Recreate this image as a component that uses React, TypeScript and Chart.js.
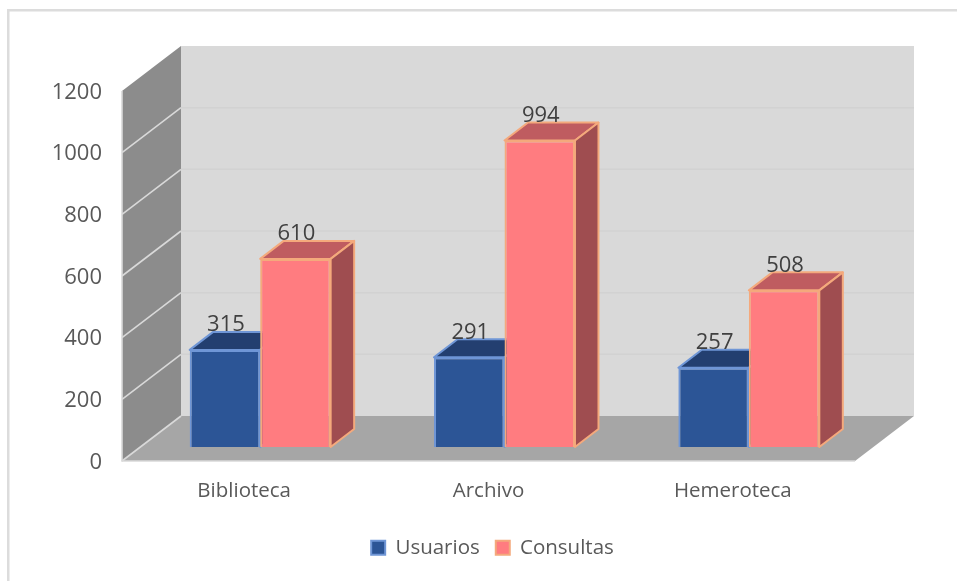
import React, { useEffect, useRef } from "react";
import { Chart, registerables } from "chart.js";

Chart.register(...registerables);

const categories = ["Biblioteca", "Archivo", "Hemeroteca"];
const usuarios = [315, 291, 257];
const consultas = [610, 994, 508];
const yMax = 1200;
const yStep = 200;

const FONT = "'Open Sans', sans-serif";
const TEXT = "#595959";
const WALL_DX = 59;
const WALL_DY = -45;
const BAR_SHIFT_X = 16;
const BAR_SHIFT_Y = -14;
const BAR_DX = 23.5;
const BAR_DY = -18;
const LEGEND_SHIFT_X = 4;

const palette = [
  { front: "#2c5596", border: "#6f96d6", top: "#233f70", side: "#1f3864" },
  { front: "#ff7c80", border: "#f4a97c", top: "#bf5c60", side: "#9f4d50" },
];

function poly(ctx: CanvasRenderingContext2D, pts: number[][], fill: string, stroke?: string, lw = 2) {
  ctx.beginPath();
  pts.forEach((p, i) => (i ? ctx.lineTo(p[0], p[1]) : ctx.moveTo(p[0], p[1])));
  ctx.closePath();
  ctx.fillStyle = fill;
  ctx.fill();
  if (stroke) {
    ctx.strokeStyle = stroke;
    ctx.lineWidth = lw;
    ctx.lineJoin = "round";
    ctx.stroke();
  }
}

const scene3d = {
  id: "scene3d",
  afterLayout(chart: any) {
    const lg = chart.legend;
    if (lg) {
      lg.left += LEGEND_SHIFT_X;
      lg.right += LEGEND_SHIFT_X;
    }
  },
  beforeDatasetsDraw(chart: any) {
    const { ctx, chartArea: a, scales } = chart;
    const y = scales.y;
    ctx.save();
    // frame of the picture
    ctx.fillStyle = "#dcdcdc";
    ctx.fillRect(7, 9, 950, 2.5);
    ctx.fillRect(7, 9, 2.5, 572);
    // back wall, side wall, floor
    const L = a.left, R = a.right, T = a.top, B = a.bottom;
    poly(ctx, [[L + WALL_DX, T + WALL_DY], [R + WALL_DX, T + WALL_DY], [R + WALL_DX, B + WALL_DY], [L + WALL_DX, B + WALL_DY]], "#d9d9d9");
    poly(ctx, [[L, T], [L + WALL_DX, T + WALL_DY], [L + WALL_DX, B + WALL_DY], [L, B]], "#8c8c8c");
    poly(ctx, [[L, B], [L + WALL_DX, B + WALL_DY], [R + WALL_DX, B + WALL_DY], [R, B]], "#a6a6a6");
    // grid lines from the value scale
    y.ticks.forEach((t: any) => {
      const py = y.getPixelForValue(t.value);
      if (t.value > 0 && t.value < yMax) {
        ctx.strokeStyle = "#d2d2d2";
        ctx.lineWidth = 1.5;
        ctx.beginPath();
        ctx.moveTo(L + WALL_DX, py + WALL_DY);
        ctx.lineTo(R + WALL_DX, py + WALL_DY);
        ctx.stroke();
      }
      if (t.value < yMax) {
        ctx.strokeStyle = "#d9d9d9";
        ctx.lineWidth = 1.6;
        ctx.beginPath();
        ctx.moveTo(L, py);
        ctx.lineTo(L + WALL_DX, py + WALL_DY);
        ctx.stroke();
      }
    });
    // axis edges
    ctx.strokeStyle = "#d9d9d9";
    ctx.lineWidth = 1.6;
    ctx.beginPath();
    ctx.moveTo(L, T);
    ctx.lineTo(L, B);
    ctx.lineTo(R, B);
    ctx.stroke();
    // bar depth faces, behind every front face
    [0, 1].forEach((d) => {
      const c = palette[d];
      chart.getDatasetMeta(d).data.forEach((el: any) => {
        const w = el.width / 2;
        const x0 = el.x - w + BAR_SHIFT_X;
        const x1 = el.x + w + BAR_SHIFT_X;
        const top = el.y + BAR_SHIFT_Y;
        const base = el.base + BAR_SHIFT_Y;
        poly(ctx, [[x0, top], [x1, top], [x1 + BAR_DX, top + BAR_DY], [x0 + BAR_DX, top + BAR_DY]], c.top, c.border);
        poly(ctx, [[x1, top], [x1 + BAR_DX, top + BAR_DY], [x1 + BAR_DX, base + BAR_DY], [x1, base]], c.side, c.border);
      });
    });
    ctx.restore();
  },
  beforeDatasetDraw(chart: any) {
    chart.ctx.save();
    chart.ctx.translate(BAR_SHIFT_X, BAR_SHIFT_Y);
  },
  afterDatasetDraw(chart: any) {
    chart.ctx.restore();
  },
  afterDatasetsDraw(chart: any) {
    const { ctx } = chart;
    ctx.save();
    ctx.font = `22px ${FONT}`;
    ctx.fillStyle = "#404040";
    ctx.textAlign = "center";
    ctx.textBaseline = "middle";
    [0, 1].forEach((d) => {
      chart.getDatasetMeta(d).data.forEach((el: any, i: number) => {
        const v = chart.data.datasets[d].data[i];
        ctx.fillText(String(v), el.x + BAR_SHIFT_X + 1, el.y + BAR_SHIFT_Y - 25);
      });
    });
    ctx.restore();
  },
};

export default function App() {
  const ref = useRef<HTMLCanvasElement>(null);
  useEffect(() => {
    const chart = new Chart(ref.current!, {
      type: "bar",
      data: {
        labels: categories,
        datasets: [
          { label: "Usuarios", data: usuarios, backgroundColor: palette[0].front, borderColor: palette[0].border, borderWidth: 2 },
          { label: "Consultas", data: consultas, backgroundColor: palette[1].front, borderColor: palette[1].border, borderWidth: 2 },
        ],
      },
      options: {
        responsive: false,
        animation: false,
        layout: { padding: { left: 40, right: 102, top: 91, bottom: 13 } },
        datasets: { bar: { categoryPercentage: 0.577, barPercentage: 1 } },
        scales: {
          x: {
            grid: { display: false },
            border: { display: false },
            ticks: { color: TEXT, font: { family: FONT, size: 20.5 }, padding: 9.5, maxRotation: 0 },
            afterFit: (s: any) => { s.height = 60.5; },
          },
          y: {
            min: 0,
            max: yMax,
            grid: { display: false },
            border: { display: false },
            ticks: {
              stepSize: yStep,
              color: TEXT,
              font: { family: FONT, size: 22 },
              padding: 12,
              labelOffset: 1.5,
              callback: (v: any) => String(v),
            },
            afterFit: (s: any) => { s.width = 82; },
          },
        },
        plugins: {
          tooltip: { enabled: false },
          legend: {
            position: "bottom",
            fullSize: false,
            labels: {
              color: TEXT,
              font: { family: FONT, size: 20.5 },
              boxWidth: 14,
              boxHeight: 14,
              padding: 16,
            },
          },
        },
      },
      plugins: [scene3d],
    } as any);
    return () => chart.destroy();
  }, []);
  return (
    <canvas
      ref={ref}
      width={957}
      height={581}
      style={{ position: "fixed", left: 0, top: 0, width: 957, height: 581, display: "block", filter: "blur(0.4px)" }}
    />
  );
}
